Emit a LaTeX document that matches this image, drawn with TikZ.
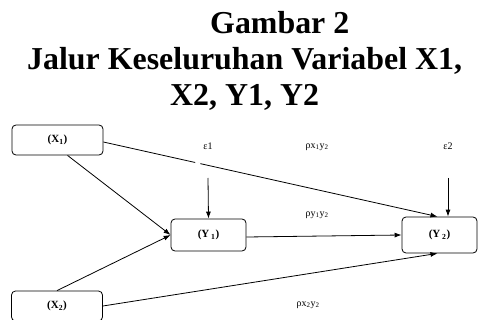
\documentclass[tikz,border=0pt]{standalone}
\usepackage{fontspec}
\setmainfont{Liberation Serif}
\usetikzlibrary{arrows.meta,calc}
\tikzset{
  title/.style={anchor=base west,inner sep=0pt,font=\fontsize{31.9}{36}\selectfont\bfseries},
  var/.style={draw,rounded corners=4pt,line width=0.8pt,minimum width=91pt,minimum height=30pt,inner sep=0pt,font=\fontsize{11}{13}\selectfont\bfseries},
  lab/.style={inner sep=0pt,font=\fontsize{10}{12}\selectfont},
  conn/.style={line width=0.8pt,-{Latex[length=7pt,width=5pt]}}
}
\begin{document}
\begin{tikzpicture}[x=1pt,y=-1pt]
\clip (0,0) rectangle (478,320);
\node[title] (t1) at (210,34) {Gambar 2};
\node[title] (t2) at (27,70) {Jalur Keseluruhan Variabel X1,};
\node[title] (t3) at (170,106) {X2, Y1, Y2};
\node[var] (X1) at (57.5,140) {(X\textsubscript{1})};
\node[var] (X2) at (57,306) {(X\textsubscript{2})};
\node[var,minimum width=75pt,minimum height=32pt] (Y1) at (208.5,235) {(Y\,\textsubscript{1})};
\node[var,minimum width=75pt,minimum height=36pt] (Y2) at (439.5,235) {(Y\,\textsubscript{2})};
\node[lab] (e1) at (208,146) {ε1};
\node[lab] (e2) at (448,146) {ε2};
\node[lab] (p1) at (317,147) {ρx\textsubscript{1}y\textsubscript{2}};
\node[lab] (p2) at (317,215) {ρy\textsubscript{1}y\textsubscript{2}};
\node[lab] (p3) at (308,305) {ρx\textsubscript{2}y\textsubscript{2}};
\coordinate (e1a) at (208,178);
\coordinate (e2a) at (448,178);
\coordinate (x1e) at ([yshift=-2pt]X1.east);
\coordinate (y2n) at ([xshift=-2pt]Y2.north);
\draw[conn] (e1a) -- (Y1.north);
\draw[conn] (e2a) -- ([xshift=8.5pt]Y2.north);
\draw[conn] (x1e) -- (y2n);
\draw[white,line width=2pt] ($(x1e)!0.275!(y2n)$) -- ($(x1e)!0.29!(y2n)$);
\draw[conn] ([xshift=10pt]X1.south) -- (Y1.west);
\draw[conn] (X2.north) -- (Y1.west);
\draw[conn] ([yshift=-2pt]Y1.east) -- (Y2.west);
\draw[conn] (X2.east) -- ([xshift=-2pt]Y2.south);
\end{tikzpicture}
\end{document}
